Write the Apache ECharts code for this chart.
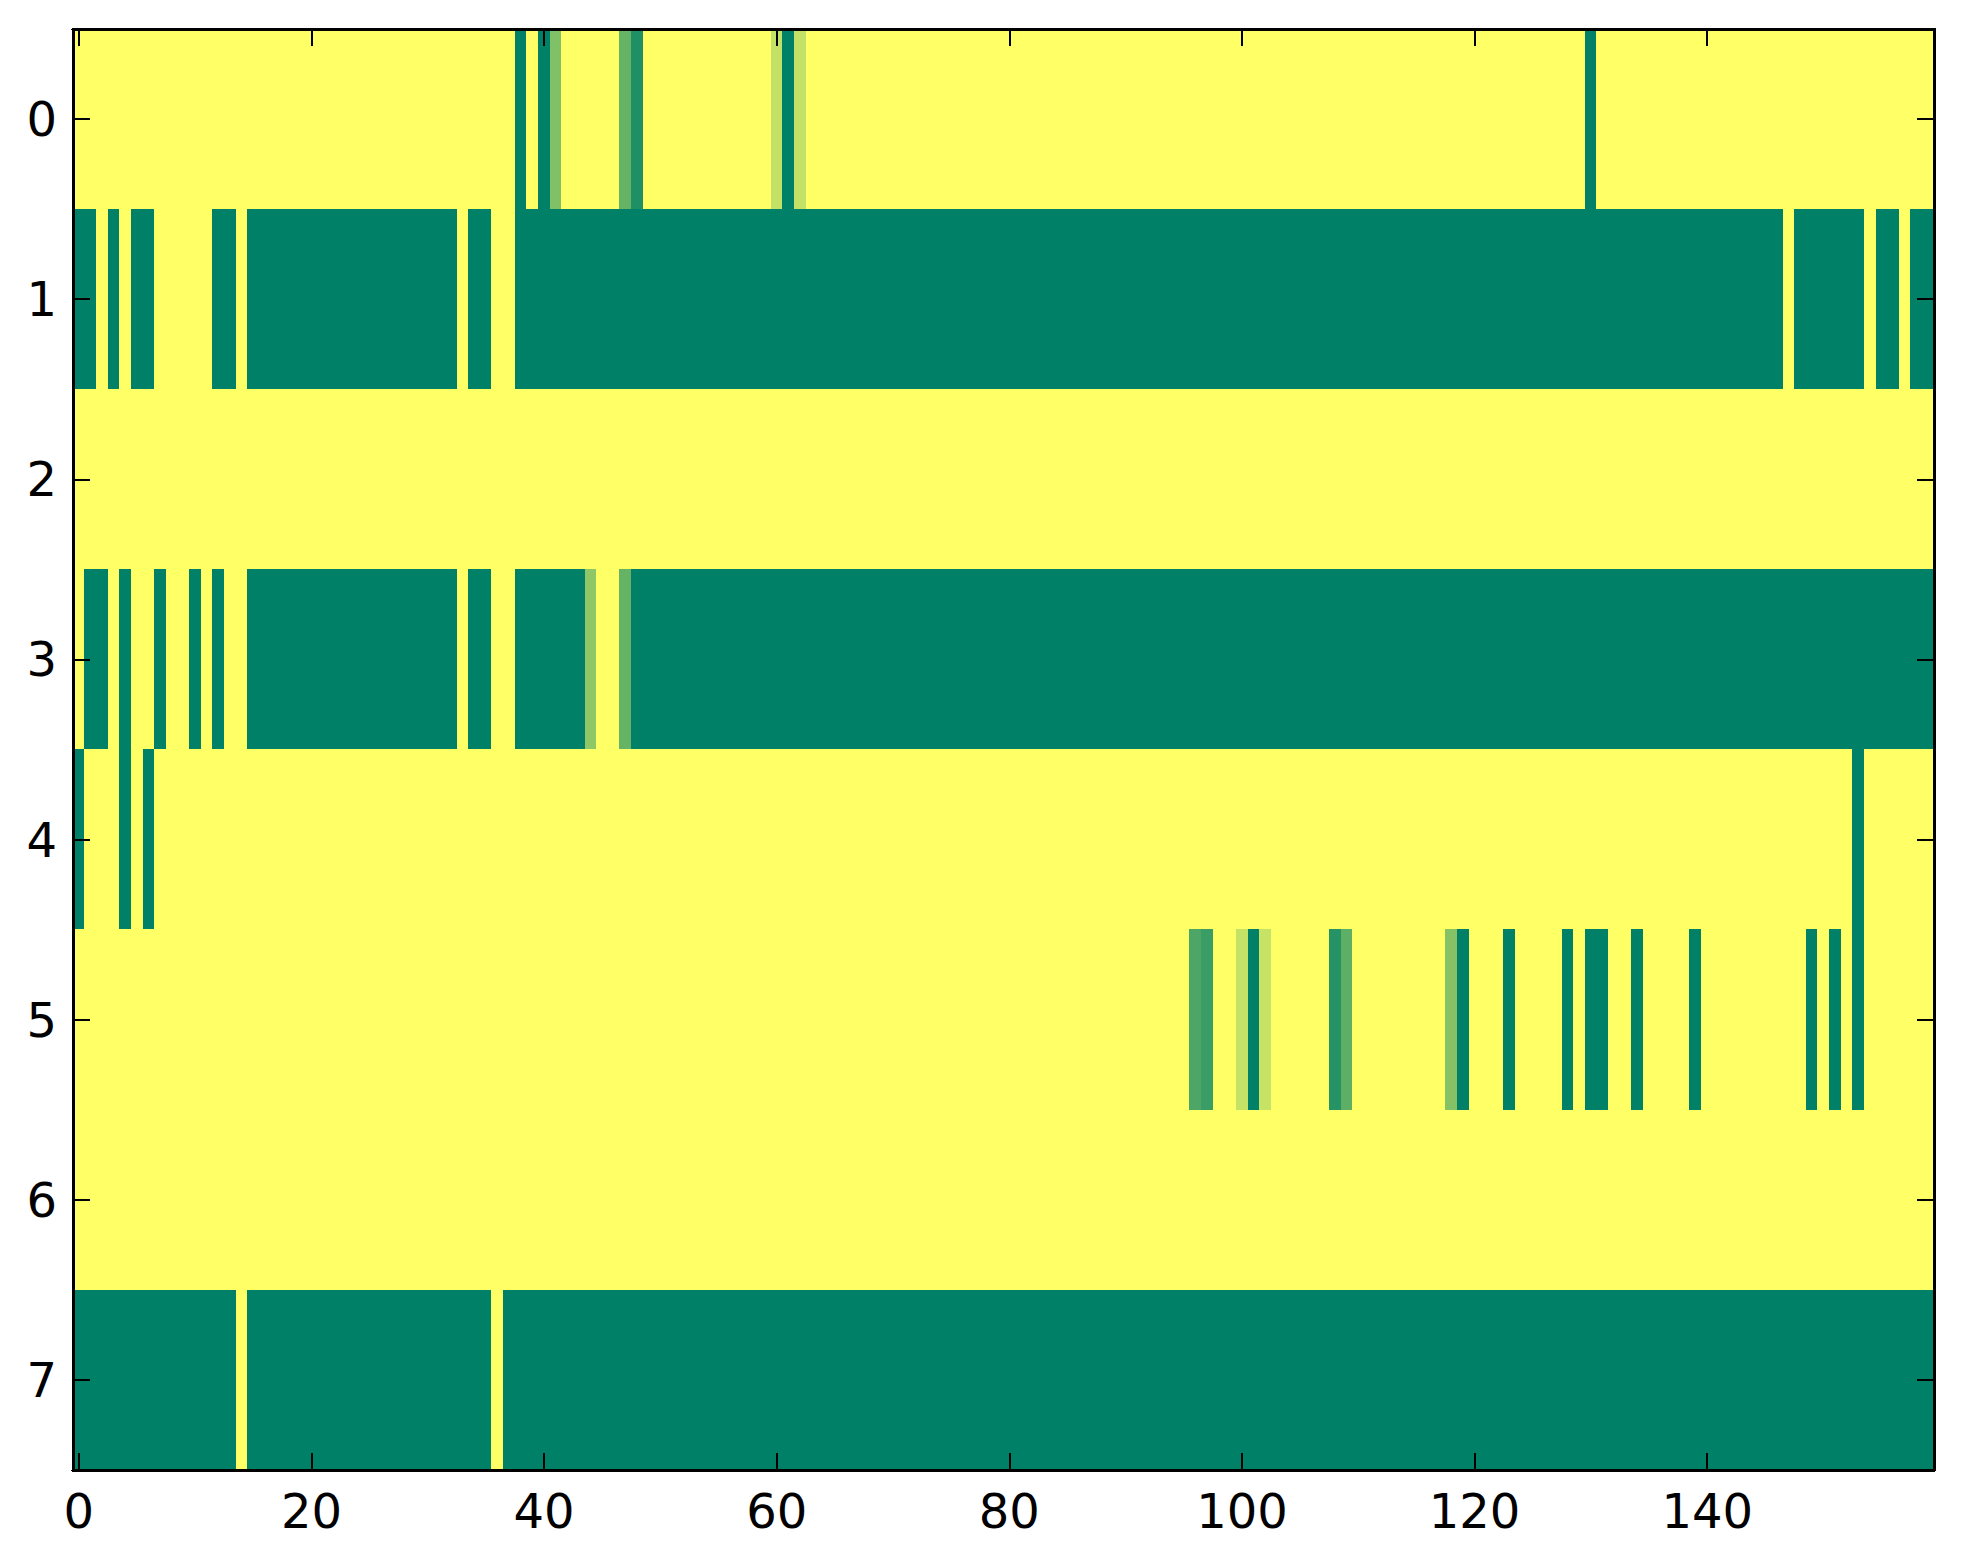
<!DOCTYPE html>
<html>
<head>
<meta charset="utf-8">
<script src="https://cdn.jsdelivr.net/npm/echarts@6/dist/echarts.min.js"></script>
<style>html,body{margin:0;padding:0;background:#fff;}#c{width:1963px;height:1564px;}#c svg path{shape-rendering:crispEdges;}</style>
</head>
<body>
<div id="c"></div>
<script>
// column categories 0..159 and row categories 0..7
const columns = [
  0,1,2,3,4,5,6,7,8,9,10,11,12,13,14,15,16,17,18,19,
  20,21,22,23,24,25,26,27,28,29,30,31,32,33,34,35,36,37,38,39,
  40,41,42,43,44,45,46,47,48,49,50,51,52,53,54,55,56,57,58,59,
  60,61,62,63,64,65,66,67,68,69,70,71,72,73,74,75,76,77,78,79,
  80,81,82,83,84,85,86,87,88,89,90,91,92,93,94,95,96,97,98,99,
  100,101,102,103,104,105,106,107,108,109,110,111,112,113,114,115,116,117,118,119,
  120,121,122,123,124,125,126,127,128,129,130,131,132,133,134,135,136,137,138,139,
  140,141,142,143,144,145,146,147,148,149,150,151,152,153,154,155,156,157,158,159
];
const rowsLabels = ['0','1','2','3','4','5','6','7'];
const xTickLabels = ['0','20','40','60','80','100','120','140'];

const row0 = [
  1,1,1,1,1,1,1,1,1,1,1,1,1,1,1,1,1,1,1,1,
  1,1,1,1,1,1,1,1,1,1,1,1,1,1,1,1,1,1,0,1,
  0,0.5,1,1,1,1,1,0.4,0.12,1,1,1,1,1,1,1,1,1,1,1,
  0.76,0,0.76,1,1,1,1,1,1,1,1,1,1,1,1,1,1,1,1,1,
  1,1,1,1,1,1,1,1,1,1,1,1,1,1,1,1,1,1,1,1,
  1,1,1,1,1,1,1,1,1,1,1,1,1,1,1,1,1,1,1,1,
  1,1,1,1,1,1,1,1,1,1,0,1,1,1,1,1,1,1,1,1,
  1,1,1,1,1,1,1,1,1,1,1,1,1,1,1,1,1,1,1,1
];
const row1 = [
  0,0,1,0,1,0,0,1,1,1,1,1,0,0,1,0,0,0,0,0,
  0,0,0,0,0,0,0,0,0,0,0,0,0,1,0,0,1,1,0,0,
  0,0,0,0,0,0,0,0,0,0,0,0,0,0,0,0,0,0,0,0,
  0,0,0,0,0,0,0,0,0,0,0,0,0,0,0,0,0,0,0,0,
  0,0,0,0,0,0,0,0,0,0,0,0,0,0,0,0,0,0,0,0,
  0,0,0,0,0,0,0,0,0,0,0,0,0,0,0,0,0,0,0,0,
  0,0,0,0,0,0,0,0,0,0,0,0,0,0,0,0,0,0,0,0,
  0,0,0,0,0,0,0,1,0,0,0,0,0,0,1,0,0,1,0,0
];
const row2 = [
  1,1,1,1,1,1,1,1,1,1,1,1,1,1,1,1,1,1,1,1,
  1,1,1,1,1,1,1,1,1,1,1,1,1,1,1,1,1,1,1,1,
  1,1,1,1,1,1,1,1,1,1,1,1,1,1,1,1,1,1,1,1,
  1,1,1,1,1,1,1,1,1,1,1,1,1,1,1,1,1,1,1,1,
  1,1,1,1,1,1,1,1,1,1,1,1,1,1,1,1,1,1,1,1,
  1,1,1,1,1,1,1,1,1,1,1,1,1,1,1,1,1,1,1,1,
  1,1,1,1,1,1,1,1,1,1,1,1,1,1,1,1,1,1,1,1,
  1,1,1,1,1,1,1,1,1,1,1,1,1,1,1,1,1,1,1,1
];
const row3 = [
  1,0,0,1,0,1,1,0,1,1,0,1,0,1,1,0,0,0,0,0,
  0,0,0,0,0,0,0,0,0,0,0,0,0,1,0,0,1,1,0,0,
  0,0,0,0,0.56,1,1,0.4,0,0,0,0,0,0,0,0,0,0,0,0,
  0,0,0,0,0,0,0,0,0,0,0,0,0,0,0,0,0,0,0,0,
  0,0,0,0,0,0,0,0,0,0,0,0,0,0,0,0,0,0,0,0,
  0,0,0,0,0,0,0,0,0,0,0,0,0,0,0,0,0,0,0,0,
  0,0,0,0,0,0,0,0,0,0,0,0,0,0,0,0,0,0,0,0,
  0,0,0,0,0,0,0,0,0,0,0,0,0,0,0,0,0,0,0,0
];
const row4 = [
  0,1,1,1,0,1,0,1,1,1,1,1,1,1,1,1,1,1,1,1,
  1,1,1,1,1,1,1,1,1,1,1,1,1,1,1,1,1,1,1,1,
  1,1,1,1,1,1,1,1,1,1,1,1,1,1,1,1,1,1,1,1,
  1,1,1,1,1,1,1,1,1,1,1,1,1,1,1,1,1,1,1,1,
  1,1,1,1,1,1,1,1,1,1,1,1,1,1,1,1,1,1,1,1,
  1,1,1,1,1,1,1,1,1,1,1,1,1,1,1,1,1,1,1,1,
  1,1,1,1,1,1,1,1,1,1,1,1,1,1,1,1,1,1,1,1,
  1,1,1,1,1,1,1,1,1,1,1,1,1,0,1,1,1,1,1,1
];
const row5 = [
  1,1,1,1,1,1,1,1,1,1,1,1,1,1,1,1,1,1,1,1,
  1,1,1,1,1,1,1,1,1,1,1,1,1,1,1,1,1,1,1,1,
  1,1,1,1,1,1,1,1,1,1,1,1,1,1,1,1,1,1,1,1,
  1,1,1,1,1,1,1,1,1,1,1,1,1,1,1,1,1,1,1,1,
  1,1,1,1,1,1,1,1,1,1,1,1,1,1,1,1,0.3,0.23,1,1,
  0.77,0,0.78,1,1,1,1,1,0.15,0.37,1,1,1,1,1,1,1,1,0.52,0,
  1,1,1,0,1,1,1,1,0,1,0,0,1,1,0,1,1,1,1,0,
  1,1,1,1,1,1,1,1,1,0,1,0,1,0,1,1,1,1,1,1
];
const row6 = [
  1,1,1,1,1,1,1,1,1,1,1,1,1,1,1,1,1,1,1,1,
  1,1,1,1,1,1,1,1,1,1,1,1,1,1,1,1,1,1,1,1,
  1,1,1,1,1,1,1,1,1,1,1,1,1,1,1,1,1,1,1,1,
  1,1,1,1,1,1,1,1,1,1,1,1,1,1,1,1,1,1,1,1,
  1,1,1,1,1,1,1,1,1,1,1,1,1,1,1,1,1,1,1,1,
  1,1,1,1,1,1,1,1,1,1,1,1,1,1,1,1,1,1,1,1,
  1,1,1,1,1,1,1,1,1,1,1,1,1,1,1,1,1,1,1,1,
  1,1,1,1,1,1,1,1,1,1,1,1,1,1,1,1,1,1,1,1
];
const row7 = [
  0,0,0,0,0,0,0,0,0,0,0,0,0,0,1,0,0,0,0,0,
  0,0,0,0,0,0,0,0,0,0,0,0,0,0,0,0,1,0,0,0,
  0,0,0,0,0,0,0,0,0,0,0,0,0,0,0,0,0,0,0,0,
  0,0,0,0,0,0,0,0,0,0,0,0,0,0,0,0,0,0,0,0,
  0,0,0,0,0,0,0,0,0,0,0,0,0,0,0,0,0,0,0,0,
  0,0,0,0,0,0,0,0,0,0,0,0,0,0,0,0,0,0,0,0,
  0,0,0,0,0,0,0,0,0,0,0,0,0,0,0,0,0,0,0,0,
  0,0,0,0,0,0,0,0,0,0,0,0,0,0,0,0,0,0,0,0
];

const allRows = [row0,row1,row2,row3,row4,row5,row6,row7];
const cells = [];
allRows.forEach((r, yi) => r.forEach((v, xi) => cells.push([xi, yi, v])));

const colCats = columns.map(String);
const showEvery20 = (idx) => xTickLabels.indexOf(colCats[idx]) !== -1;
const font = 'DejaVu Sans';
const lineW = 3;
const tickStyle = {show:true, inside:true, length:17, alignWithLabel:true, lineStyle:{color:'#000', width:2}};

const chart = echarts.init(document.getElementById('c'), null, {renderer:'svg'});
chart.setOption({
  backgroundColor:'#ffffff',
  animation:false,
  grid:{left:73, top:29, width:1861, height:1441, containLabel:false},
  xAxis:[
    {type:'category', data:colCats, position:'bottom', boundaryGap:true, z:10,
     axisLine:{show:true, onZero:false, lineStyle:{color:'#000', width:lineW}},
     axisTick:Object.assign({}, tickStyle, {interval:(i)=>showEvery20(i)}),
     axisLabel:{show:true, interval:(i)=>showEvery20(i), color:'#000', fontFamily:font, fontSize:48, margin:17},
     splitLine:{show:false}, splitArea:{show:false}},
    {type:'category', data:colCats, position:'top', boundaryGap:true, z:10,
     axisLine:{show:true, onZero:false, lineStyle:{color:'#000', width:lineW}},
     axisTick:Object.assign({}, tickStyle, {interval:(i)=>showEvery20(i)}),
     axisLabel:{show:false}, splitLine:{show:false}}
  ],
  yAxis:[
    {type:'category', data:rowsLabels, inverse:true, position:'left', boundaryGap:true, z:10,
     axisLine:{show:true, onZero:false, lineStyle:{color:'#000', width:lineW}},
     axisTick:Object.assign({}, tickStyle, {interval:0}),
     axisLabel:{show:true, interval:0, color:'#000', fontFamily:font, fontSize:48, margin:16},
     splitLine:{show:false}, splitArea:{show:false}},
    {type:'category', data:rowsLabels, inverse:true, position:'right', boundaryGap:true, z:10,
     axisLine:{show:true, onZero:false, lineStyle:{color:'#000', width:lineW}},
     axisTick:Object.assign({}, tickStyle, {interval:0}),
     axisLabel:{show:false}, splitLine:{show:false}}
  ],
  visualMap:{type:'continuous', min:0, max:1, show:false, dimension:2,
    inRange:{color:['#008066','#ffff66']}},
  series:[{
    type:'heatmap', xAxisIndex:0, yAxisIndex:0, data:cells, z:1,
    itemStyle:{borderWidth:0}, emphasis:{disabled:true}, progressive:0
  }]
});
</script>
</body>
</html>
